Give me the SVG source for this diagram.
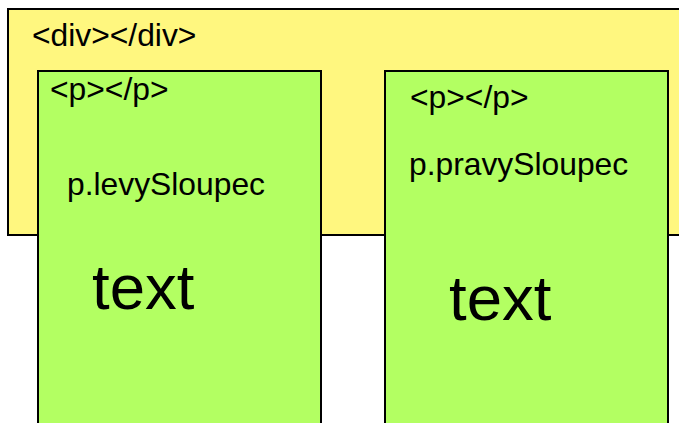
<svg xmlns="http://www.w3.org/2000/svg" width="679" height="423" viewBox="0 0 679 423">
<style>
text{font-family:"Liberation Sans",Arial,sans-serif;fill:#000}
.lbl{font-size:31.8px}
.big{font-size:63.5px}
.box{stroke:#000;stroke-width:2}
</style>
<rect width="679" height="423" fill="#fff"/>
<g id="div">
<rect class="box" x="8" y="9" width="680" height="226" fill="#fff77f"/>
<text class="lbl" x="32" y="46">&lt;div&gt;&lt;/div&gt;</text>
</g>
<g id="levySloupec">
<rect class="box" x="38" y="71" width="283" height="360" fill="#b3ff62"/>
<text class="lbl" x="50" y="100">&lt;p&gt;&lt;/p&gt;</text>
<text class="lbl" x="67" y="195">p.levySloupec</text>
<text class="big" x="92" y="309">text</text>
</g>
<g id="pravySloupec">
<rect class="box" x="385" y="71" width="283" height="360" fill="#b3ff62"/>
<text class="lbl" x="410" y="108">&lt;p&gt;&lt;/p&gt;</text>
<text class="lbl" x="409" y="175">p.pravySloupec</text>
<text class="big" x="449" y="320">text</text>
</g>
<g id="connectors"/>
</svg>
